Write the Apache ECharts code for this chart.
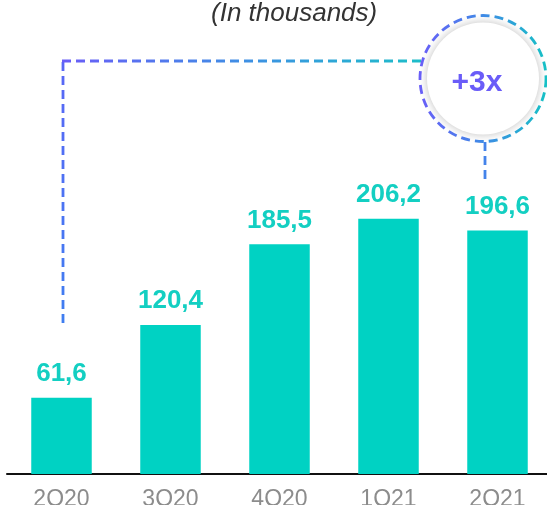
<!DOCTYPE html>
<html>
<head>
<meta charset="utf-8">
<script src="https://cdn.jsdelivr.net/npm/echarts@6/dist/echarts.min.js"></script>
<style>
html,body{margin:0;padding:0;background:#fff;}
#main{width:547px;height:505px;}
</style>
</head>
<body>
<div id="main"></div>
<script>
const categories = ['2Q20', '3Q20', '4Q20', '1Q21', '2Q21'];
const values = [61.6, 120.4, 185.5, 206.2, 196.6];
const subtitle = '(In thousands)';
const badgeText = '+3x';

const FONT = 'Arial, "Liberation Sans", sans-serif';
const chart = echarts.init(document.getElementById('main'), null, {renderer: 'canvas'});
const teal = '#00d2c3';
const dashGrad = (x, y, x2, y2, stops) => new echarts.graphic.LinearGradient(x, y, x2, y2, stops);

chart.setOption({
  animation: false,
  backgroundColor: '#fff',
  title: {
    text: subtitle,
    left: 206,
    top: -4,
    textStyle: {fontFamily: FONT, fontStyle: 'italic', fontWeight: 'normal', fontSize: 26, color: '#333'}
  },
  grid: {left: 7, width: 545, top: 102.6, height: 371.4, containLabel: false, outerBoundsMode: 'none'},
  xAxis: {
    type: 'category',
    data: categories,
    axisLine: {show: true, lineStyle: {color: '#111', width: 2}},
    axisTick: {show: false},
    axisLabel: {color: '#8c8c8c', fontSize: 23, fontFamily: FONT, margin: 14}
  },
  yAxis: {
    type: 'value', min: 0, max: 300, show: false, splitLine: {show: false}
  },
  series: [{
    type: 'bar',
    data: values,
    barWidth: '55.5%',
    itemStyle: {color: teal},
    label: {
      show: true,
      position: 'top',
      distance: 11,
      color: '#13cfc2',
      fontSize: 26,
      fontWeight: 'bold',
      fontFamily: FONT,
      formatter: p => p.value.toFixed(1).replace('.', ',')
    }
  }],
  graphic: [
    {
      type: 'line', shape: {x1: 63, y1: 323, x2: 63, y2: 61},
      style: {stroke: dashGrad(0, 1, 0, 0, [{offset: 0, color: '#3f7ef0'}, {offset: 1, color: '#5a66f6'}]), lineWidth: 2.8, lineDash: [9, 5]}
    },
    {
      type: 'line', shape: {x1: 62, y1: 61, x2: 425, y2: 61},
      style: {stroke: dashGrad(0, 0, 1, 0, [{offset: 0, color: '#6a5cf8'}, {offset: 0.5, color: '#3f8fe4'}, {offset: 1, color: '#1cbfc8'}]), lineWidth: 2.8, lineDash: [9, 5]}
    },
    {
      type: 'line', shape: {x1: 485, y1: 142, x2: 485, y2: 181},
      style: {stroke: '#4483ea', lineWidth: 2.8, lineDash: [9, 5]}
    },
    {
      type: 'circle', shape: {cx: 483, cy: 78.5, r: 56},
      style: {fill: '#fff', shadowBlur: 8, shadowColor: 'rgba(0,0,0,0.25)'}
    },
    {
      type: 'circle', shape: {cx: 483, cy: 78.5, r: 63},
      style: {fill: null, stroke: dashGrad(0, 0, 1, 0, [{offset: 0, color: '#6a5cf8'}, {offset: 0.5, color: '#3f8ae6'}, {offset: 1, color: '#14c2c4'}]), lineWidth: 2.8, lineDash: [9, 5]}
    },
    {
      type: 'text', x: 477, y: 83,
      style: {text: badgeText, fill: '#6a5cf8', font: 'bold 30px Arial, "Liberation Sans", sans-serif', textAlign: 'center', textVerticalAlign: 'middle'}
    }
  ]
});
</script>
</body>
</html>
